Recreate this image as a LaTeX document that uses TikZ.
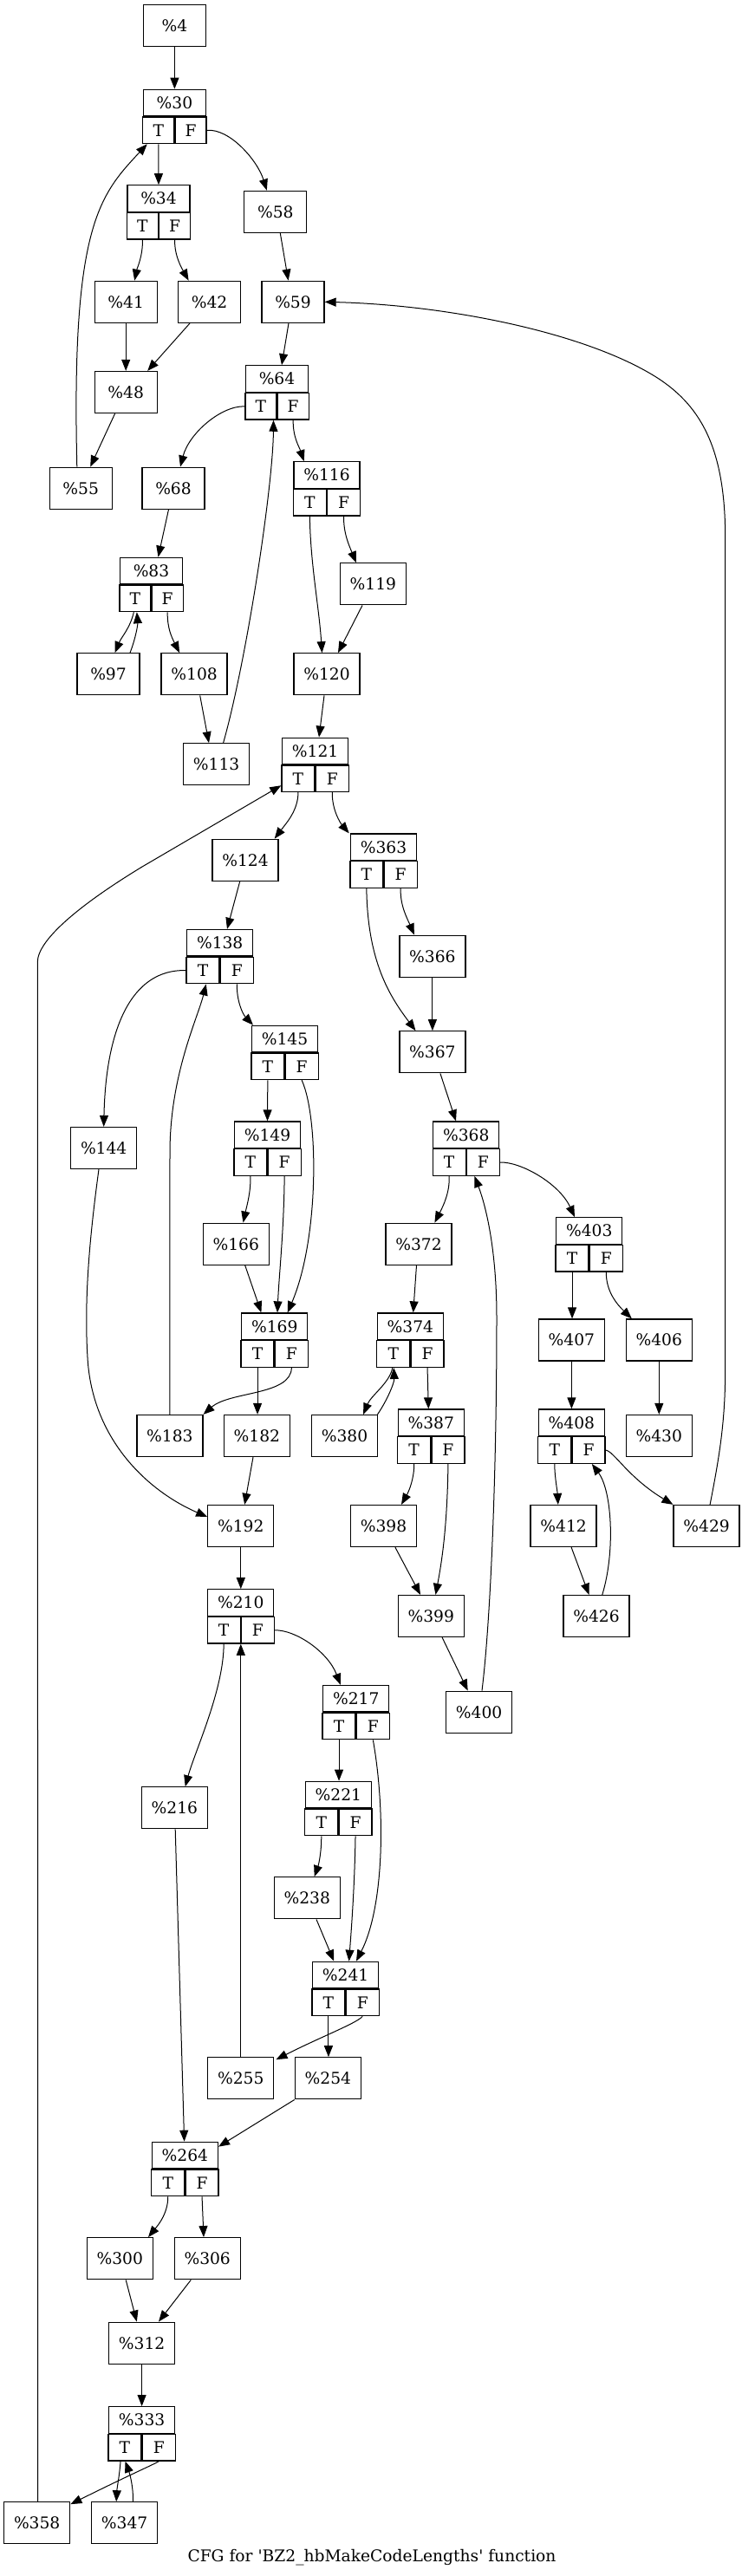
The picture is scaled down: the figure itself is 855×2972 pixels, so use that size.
\documentclass[tikz,border=0pt]{standalone}
\usepackage{fontspec}
\setmainfont{DejaVu Serif}
\usetikzlibrary{arrows.meta}

% branch block: name, x, y (centre of whole record), label, half width
\newcommand{\cfgcond}[5]{%
  \node[hdr, minimum width=#5*2pt] (#1) at (#2,#3-15.25) {#4};
  \node[cell, minimum width=#5pt, anchor=north east] (#1t) at (#1.south) {T};
  \node[cell, minimum width=#5pt, anchor=north west] (#1f) at (#1.south) {F};}

\begin{document}
\begin{tikzpicture}[
  x=1pt, y=-1pt,
  font=\fontsize{18.67}{22}\selectfont,
  blk/.style={draw, line width=1.3pt, minimum width=72pt, minimum height=48pt, inner sep=0pt},
  blkw/.style={blk, minimum width=76pt},
  hdr/.style={draw, line width=1.3pt, minimum height=30.5pt, inner sep=0pt},
  cell/.style={hdr},
  arr/.style={-{Triangle[length=13pt, width=10pt]}, line width=1pt}
]
\useasboundingbox (0,0) rectangle (855,2972);
% ----- plain blocks -----
\node[blk]  (n4)   at (201.4,29.5)   {\%4};
\node[blk]  (n58)  at (317.8,244.3)  {\%58};
\node[blk]  (n41)  at (145.2,348.3)  {\%41};
\node[blk]  (n42)  at (241.6,348.3)  {\%42};
\node[blk]  (n59)  at (338,348.3)    {\%59};
\node[blk]  (n48)  at (145.2,452.5)  {\%48};
\node[blk]  (n55)  at (93.2,563.2)   {\%55};
\node[blk]  (n68)  at (200,563.2)    {\%68};
\node[blkw] (n119) at (430.4,673.8)  {\%119};
\node[blk]  (n97)  at (125,777.8)    {\%97};
\node[blkw] (n108) at (224.1,777.8)  {\%108};
\node[blkw] (n120) at (377,777.8)    {\%120};
\node[blkw] (n113) at (249.6,881.8)  {\%113};
\node[blkw] (n124) at (283,992.3)    {\%124};
\node[blkw] (n366) at (498.9,1103.2) {\%366};
\node[blkw] (n367) at (498.9,1213.8) {\%367};
\node[blkw] (n144) at (119.7,1324.5) {\%144};
\node[blkw] (n166) at (272.3,1435.2) {\%166};
\node[blkw] (n372) at (483,1435.2)   {\%372};
\node[blkw] (n407) at (659.4,1546)   {\%407};
\node[blkw] (n406) at (760.3,1546)   {\%406};
\node[blkw] (n183) at (195.9,1656.5) {\%183};
\node[blkw] (n182) at (296.4,1656.5) {\%182};
\node[blkw] (n380) at (397.5,1656.5) {\%380};
\node[blkw] (n430) at (760.3,1656.5) {\%430};
\node[blkw] (n192) at (277.8,1760.5) {\%192};
\node[blkw] (n398) at (442.5,1760.5) {\%398};
\node[blkw] (n412) at (650.1,1760.5) {\%412};
\node[blkw] (n429) at (815.1,1760.5) {\%429};
\node[blkw] (n399) at (497.3,1864.5) {\%399};
\node[blkw] (n426) at (688,1864.5)   {\%426};
\node[blkw] (n400) at (552.6,1975.2) {\%400};
\node[blkw] (n216) at (201.4,2085.8) {\%216};
\node[blkw] (n238) at (354.2,2189.8) {\%238};
\node[blkw] (n255) at (277.8,2397.8) {\%255};
\node[blkw] (n254) at (378.4,2397.8) {\%254};
\node[blkw] (n300) at (138.3,2605.7) {\%300};
\node[blkw] (n306) at (239.2,2605.7) {\%306};
\node[blkw] (n312) at (163.6,2703.2) {\%312};
\node[blkw] (n358) at (42.7,2910.8)  {\%358};
\node[blkw] (n347) at (143.6,2910.8) {\%347};
% ----- branch blocks -----
\cfgcond{n30}{201.4}{133.8}{\%30}{36}
\cfgcond{n34}{183}{244.3}{\%34}{36}
\cfgcond{n64}{319.5}{452.3}{\%64}{36}
\cfgcond{n116}{377}{563.3}{\%116}{38}
\cfgcond{n83}{174.5}{673.8}{\%83}{36}
\cfgcond{n121}{363.6}{881.7}{\%121}{38}
\cfgcond{n363}{442.5}{992.5}{\%363}{38}
\cfgcond{n138}{253.7}{1103}{\%138}{38}
\cfgcond{n145}{328.5}{1213.8}{\%145}{38}
\cfgcond{n149}{308.5}{1324.5}{\%149}{38}
\cfgcond{n368}{537.8}{1324.5}{\%368}{38}
\cfgcond{n403}{679.7}{1435.2}{\%403}{38}
\cfgcond{n169}{316.7}{1545.5}{\%169}{38}
\cfgcond{n374}{473.4}{1545.5}{\%374}{38}
\cfgcond{n387}{497.3}{1656.5}{\%387}{38}
\cfgcond{n408}{659.4}{1656.5}{\%408}{38}
\cfgcond{n210}{277.8}{1864.3}{\%210}{38}
\cfgcond{n217}{410.7}{1975}{\%217}{38}
\cfgcond{n221}{390.4}{2085.8}{\%221}{38}
\cfgcond{n241}{398.6}{2293.8}{\%241}{38}
\cfgcond{n264}{213.4}{2501.8}{\%264}{38}
\cfgcond{n333}{163.6}{2807.2}{\%333}{38}
% ----- edges, top -----
\draw[arr] (n4.south) -- (n30.north);
\draw[arr] (n30t.south) -- (n34.north);
\draw[arr] (n30f.east) .. controls (265,148) and (297,185) .. ([xshift=-10]n58.north);
\draw[arr] (n34t.south) .. controls (165,295) and (158,310) .. ([xshift=10]n41.north);
\draw[arr] (n34f.south) .. controls (201,295) and (210,310) .. ([xshift=-24]n42.north);
\draw[arr] ([xshift=5.5]n58.south) -- ([xshift=-5.4]n59.north);
\draw[arr] (n41.south) -- (n48.north);
\draw[arr] ([xshift=-22.6]n42.south) -- ([xshift=25]n48.north);
\draw[arr] ([xshift=-5]n59.south) -- ([xshift=5.5]n64.north);
\draw[arr] ([xshift=-12.6]n48.south) -- ([xshift=11]n55.north);
\draw[arr] ([xshift=-4.4]n55.north) .. controls (82,260) and (115,225) .. ([xshift=-13]n30t.south);
\draw[arr] (n64t.west) .. controls (255,468) and (218,500) .. ([xshift=8]n68.north);
\draw[arr] (n64f.south) .. controls (338,505) and (345,515) .. ([xshift=-26.3]n116.north);
\draw[arr] ([xshift=8]n113.north) .. controls (285,760) and (315,560) .. ([xshift=-4]n64t.south east);
\draw[arr] ([xshift=4]n429.north) .. controls (830,1680) and (836.7,1640) .. (836.7,1580)
  -- (836.7,620) .. controls (836.7,520) and (810,470) .. (760,437)
  .. controls (680,385) and (520,352) .. (n59.east);
\draw[arr] ([xshift=-5.5]n68.south) -- ([xshift=8]n83.north);
\draw[arr] (n116t.south) .. controls (358,650) and (368,700) .. ([xshift=-5.5]n120.north);
\draw[arr] (n116f.south) .. controls (396,615) and (403,630) .. ([xshift=-19.4]n119.north);
\draw[arr] ([xshift=-12.4]n119.south) -- ([xshift=13]n120.north);
\draw[arr] ([xshift=-1.5]n83t.south) .. controls (150,725) and (140,735) .. ([xshift=7.6]n97.north);
\draw[arr] ([xshift=25]n97.north) .. controls (157,735) and (159,720) .. ([xshift=2]n83t.south);
\draw[arr] (n83f.south) .. controls (193,725) and (198,735) .. ([xshift=-17]n108.north);
\draw[arr] ([xshift=6.6]n108.south) -- ([xshift=-8.6]n113.north);
\draw[arr] ([xshift=-3]n120.south) -- ([xshift=4.4]n121.north);
\draw[arr] (n121t.south) .. controls (344,935) and (330,950) .. ([xshift=33.7]n124.north);
\draw[arr] (n121f.south) .. controls (383,935) and (393,950) .. ([xshift=-39.8]n363.north);
\draw[arr] ([xshift=1]n358.north) -- (43.3,1110) .. controls (43.3,1085) and (90,1045) .. (164,1000)
  -- ([yshift=-8]n121t.west);
% ----- edges, middle -----
\draw[arr] ([xshift=-6.3]n124.south) -- ([xshift=8.3]n138.north);
\draw[arr] (n363t.south) .. controls (424,1110) and (450,1150) .. ([xshift=-19.4]n367.north);
\draw[arr] (n363f.south) .. controls (461.5,1045) and (470,1060) .. ([xshift=-21]n366.north);
\draw[arr] (n366.south) -- (n367.north);
\draw[arr] (n138t.west) .. controls (150,1118) and (122,1190) .. (n144.north);
\draw[arr] (n138f.south) .. controls (273,1155) and (280,1170) .. ([xshift=-36.5]n145.north);
\draw[arr] (n183.north) -- (196,1330) .. controls (196,1240) and (228,1175) .. ([xshift=3.7]n138t.south);
\draw[arr] (n145t.south) -- (n149.north);
\draw[arr] (n145f.south) .. controls (368,1290) and (368,1430) .. ([xshift=15]n169.north);
\draw[arr] ([xshift=9]n367.south) -- ([xshift=-11.8]n368.north);
\draw[arr] (n149t.south) .. controls (289.5,1375) and (285,1390) .. ([xshift=8.2]n166.north);
\draw[arr] (n149f.south) .. controls (327.5,1420) and (322,1470) .. ([xshift=3.3]n169.north);
\draw[arr] ([xshift=10.4]n166.south) -- ([xshift=-15.3]n169.north);
\draw[arr] ([xshift=-5.7]n144.south) .. controls (103,1430) and (97,1500) .. (101,1566)
  .. controls (106,1660) and (170,1720) .. ([yshift=10.5]n192.west);
\draw[arr] (n368t.south) .. controls (519,1375) and (512,1390) .. ([xshift=18.4]n372.north);
\draw[arr] (n368f.east) .. controls (600,1340) and (645,1365) .. ([xshift=-16.7]n403.north);
\draw[arr] ([xshift=3.4]n400.north) .. controls (566,1870) and (573,1700) .. (573,1520)
  .. controls (573,1440) and (560,1390) .. ([xshift=-10]n368f.south);
\draw[arr] ([xshift=-2.5]n372.south) -- ([xshift=3.3]n374.north);
\draw[arr] (n403t.south) -- (n403t.south |- n407.north);
\draw[arr] (n403f.south) .. controls (699,1490) and (712,1505) .. ([xshift=-31.5]n406.north);
% ----- edges, lower -----
\draw[arr] (n169t.south) -- (n169t.south |- n182.north);
\draw[arr] (n169f.south) .. controls (336,1610) and (265,1605) .. (n183.north east);
\draw[arr] ([xshift=-1]n374t.south) .. controls (450,1595) and (428,1610) .. ([xshift=21.7]n380.north);
\draw[arr] ([xshift=38]n380.north) .. controls (447,1615) and (455,1595) .. ([xshift=0.5]n374t.south);
\draw[arr] (n374f.south) -- ([xshift=-3]n387.north);
\draw[arr] (n407.south) -- (n408.north);
\draw[arr] (n406.south) -- (n430.north);
\draw[arr] ([xshift=-4.4]n182.south) -- ([xshift=4.4]n192.north);
\draw[arr] (n387t.south) .. controls (478,1705) and (472,1720) .. ([xshift=20.5]n398.north);
\draw[arr] (n387f.south) .. controls (516,1760) and (510,1800) .. ([xshift=5.2]n399.north);
\draw[arr] (n408t.south) .. controls (640,1705) and (643,1720) .. ([xshift=-6.3]n412.north);
\draw[arr] (n408f.east) .. controls (708,1674) and (725,1705) .. (n429.north west);
\draw[arr] ([xshift=6.8]n426.north) .. controls (710,1790) and (706,1720) .. ([xshift=3.8]n408f.south);
\draw[arr] ([xshift=9]n412.south) -- ([xshift=-8.5]n426.north);
\draw[arr] (n192.south) -- (n210.north);
\draw[arr] ([xshift=13.4]n398.south) -- ([xshift=-12.3]n399.north);
\draw[arr] ([xshift=12.8]n399.south) -- ([xshift=-12.9]n400.north);
\draw[arr] (n210t.south) .. controls (258,1950) and (225,2020) .. ([xshift=12.3]n216.north);
\draw[arr] (n210f.east) .. controls (340,1880) and (378,1905) .. ([xshift=-17.8]n217.north);
\draw[arr] (n255.north) -- (n210t.south east);
\draw[arr] (n217t.south) -- (n217t.south |- n221.north);
\draw[arr] (n217f.south) .. controls (445,2090) and (443,2200) .. ([xshift=12.4]n241.north);
\draw[arr] (n221t.south) .. controls (371,2135) and (368,2150) .. ([xshift=8.5]n238.north);
\draw[arr] (n221f.south) .. controls (409,2180) and (405,2230) .. ([xshift=4]n241.north);
\draw[arr] ([xshift=10.8]n238.south) -- ([xshift=-13.4]n241.north);
\draw[arr] (n241t.south) -- (n241t.south |- n254.north);
\draw[arr] (n241f.south) .. controls (412,2334) and (370,2350) .. ([xshift=2,yshift=-3]n255.north east);
\draw[arr] ([xshift=0.8]n216.south) -- ([xshift=-0.8]n264.north);
\draw[arr] ([xshift=-38.7]n254.south) -- ([yshift=-6]n264.north east);
\draw[arr] (n264t.south) .. controls (194,2555) and (180,2570) .. ([xshift=32.7]n300.north);
\draw[arr] (n264f.south) -- ([xshift=-4.2]n306.north);
\draw[arr] ([xshift=6.9]n300.south) -- ([xshift=-5.8]n312.north);
\draw[arr] ([xshift=-18.9]n306.south) -- ([xshift=19.4]n312.north);
\draw[arr] (n312.south) -- (n333.north);
\draw[arr] ([xshift=-4.9]n333t.south) .. controls (138,2855) and (135,2870) .. ([xshift=-9.4]n347.north);
\draw[arr] ([xshift=9.8]n347.north) .. controls (154,2870) and (150,2855) .. ([xshift=0.6]n333t.south);
\draw[arr] (n333f.south) .. controls (178,2843) and (150,2855) .. ([yshift=-3]n358.north east);
% ----- caption -----
\node (cap) at (429,2951) {CFG for \textquotesingle BZ2\_hbMakeCodeLengths\textquotesingle{} function};
\end{tikzpicture}
\end{document}
